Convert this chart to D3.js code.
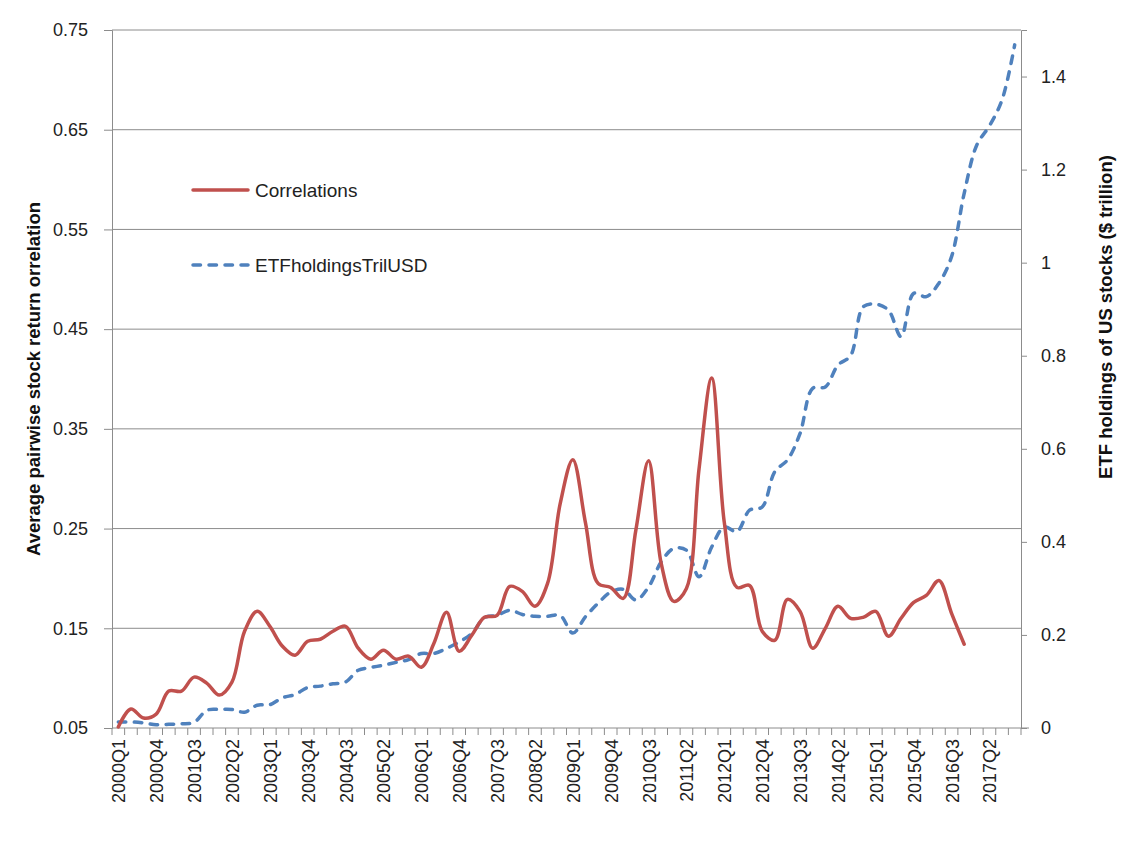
<!DOCTYPE html>
<html>
<head>
<meta charset="utf-8">
<script src="https://cdn.jsdelivr.net/npm/d3@7"></script>
<style>
  body { margin: 0; background: #fff; }
  text { font-family: "Liberation Sans", Arial, sans-serif; }
</style>
</head>
<body>
<div id="chart"></div>
<script>
// quarters 2000Q1 .. 2017Q4
const quarters = [];
for (let y = 2000; y <= 2017; y++) {
    for (let q = 1; q <= 4; q++) quarters.push(y + "Q" + q);
}

const correlations = [
    0.051, 0.069, 0.060, 0.064, 0.087, 0.087, 0.101, 0.095, 0.083, 0.096,
    0.147, 0.167, 0.152, 0.132, 0.123, 0.137, 0.139, 0.147, 0.152, 0.130,
    0.119, 0.128, 0.119, 0.122, 0.111, 0.135, 0.166, 0.127, 0.143, 0.161,
    0.163, 0.192, 0.187, 0.172, 0.195, 0.275, 0.319, 0.256, 0.195, 0.191,
    0.180, 0.249, 0.318, 0.215, 0.177, 0.190, 0.310, 0.401, 0.256, 0.191,
    0.193, 0.147, 0.138, 0.179, 0.167, 0.130, 0.150, 0.172, 0.160, 0.161,
    0.167, 0.142, 0.160, 0.176, 0.183, 0.198, 0.165, 0.134
];

const etfHoldings = [
    0.013, 0.013, 0.011, 0.007, 0.008, 0.009, 0.012, 0.038, 0.040, 0.040,
    0.034, 0.049, 0.050, 0.065, 0.072, 0.087, 0.090, 0.095, 0.099, 0.124,
    0.130, 0.135, 0.141, 0.147, 0.160, 0.160, 0.171, 0.185, 0.203, 0.237,
    0.242, 0.253, 0.244, 0.240, 0.240, 0.242, 0.204, 0.239, 0.268, 0.292,
    0.298, 0.275, 0.303, 0.357, 0.386, 0.382, 0.325, 0.389, 0.432, 0.422,
    0.468, 0.475, 0.551, 0.576, 0.633, 0.730, 0.733, 0.780, 0.800, 0.905,
    0.911, 0.898, 0.841, 0.934, 0.927, 0.956, 1.013, 1.149, 1.253, 1.294,
    1.350, 1.468
];

const leftTicks = [0.05, 0.15, 0.25, 0.35, 0.45, 0.55, 0.65, 0.75];
const rightTicks = [0, 0.2, 0.4, 0.6, 0.8, 1, 1.2, 1.4];

const W = 1132, H = 842;
const plotL = 112, plotR = 1021, plotT = 30, plotB = 728;

const svg = d3.select("#chart").append("svg")
    .attr("width", W)
    .attr("height", H);

const x = d3.scaleBand().domain(quarters).range([plotL, plotR]);
const yL = d3.scaleLinear().domain([0.05, 0.75]).range([plotB, plotT]);
const yR = d3.scaleLinear().domain([0, 1.5]).range([plotB, plotT]);

const grey = "#8c8c8c";

// gridlines
svg.append("g").selectAll("line")
    .data(leftTicks.slice(1))
    .enter().append("line")
    .attr("x1", plotL).attr("x2", plotR)
    .attr("y1", d => yL(d)).attr("y2", d => yL(d))
    .attr("stroke", grey).attr("stroke-width", 1);

// left axis
const axL = svg.append("g")
    .attr("transform", "translate(" + plotL + ",0)")
    .call(d3.axisLeft(yL).tickValues(leftTicks).tickFormat(d3.format(".2f")).tickSize(8).tickPadding(16));
axL.select(".domain").attr("stroke", grey);
axL.selectAll(".tick line").attr("stroke", grey);
axL.selectAll("text").style("font-size", "18px").attr("fill", "#222");

// right axis
const axR = svg.append("g")
    .attr("transform", "translate(" + plotR + ",0)")
    .call(d3.axisRight(yR).tickValues(rightTicks).tickFormat(d => d3.format("")(d)).tickSize(6).tickPadding(14));
axR.select(".domain").attr("stroke", grey);
axR.selectAll(".tick line").attr("stroke", grey);
axR.selectAll("text").style("font-size", "18px").attr("fill", "#222");

// bottom axis: tick marks at band boundaries, labels every 3rd quarter
const xb = svg.append("g").attr("transform", "translate(0," + plotB + ")");
xb.append("line").attr("x1", plotL).attr("x2", plotR + 8).attr("stroke", grey);
xb.selectAll(".tk")
    .data(d3.range(quarters.length + 1))
    .enter().append("line")
    .attr("x1", i => plotL + i * x.step()).attr("x2", i => plotL + i * x.step())
    .attr("y1", 0).attr("y2", 7)
    .attr("stroke", grey);
xb.selectAll(".lbl")
    .data(quarters.filter((d, i) => i % 3 === 0))
    .enter().append("text")
    .attr("transform", d => "translate(" + (x(d) + x.bandwidth() / 2 + 7) + ",11) rotate(-90)")
    .attr("text-anchor", "end")
    .style("font-size", "18px")
    .attr("fill", "#222")
    .text(d => d);

// axis titles
svg.append("text")
    .attr("transform", "translate(40,379) rotate(-90)")
    .attr("text-anchor", "middle")
    .style("font-size", "18.5px").style("font-weight", "bold")
    .attr("fill", "#111")
    .text("Average pairwise stock return orrelation");

svg.append("text")
    .attr("transform", "translate(1112,317) rotate(-90)")
    .attr("text-anchor", "middle")
    .style("font-size", "18.5px").style("font-weight", "bold")
    .attr("fill", "#111")
    .text("ETF holdings of US stocks ($ trillion)");

// lines
const red = "#c0504d", blue = "#4f81bd";

const lineL = d3.line()
    .x((d, i) => x(quarters[i]) + x.bandwidth() / 2)
    .y(d => yL(d))
    .curve(d3.curveCatmullRom.alpha(0.5));

const lineR = d3.line()
    .x((d, i) => x(quarters[i]) + x.bandwidth() / 2)
    .y(d => yR(d))
    .curve(d3.curveCatmullRom.alpha(0.5));

svg.append("path")
    .datum(etfHoldings)
    .attr("d", lineR)
    .attr("fill", "none")
    .attr("stroke", blue)
    .attr("stroke-width", 3.5)
    .attr("stroke-linecap", "round")
    .attr("stroke-dasharray", "7.5,8.5");

svg.append("path")
    .datum(correlations)
    .attr("d", lineL)
    .attr("fill", "none")
    .attr("stroke", red)
    .attr("stroke-width", 3.5)
    .attr("stroke-linejoin", "round")
    .attr("stroke-linecap", "round");

// legend
const legend = [
    { name: "Correlations", color: red, dash: null, y: 190 },
    { name: "ETFholdingsTrilUSD", color: blue, dash: "7.5,8.5", y: 265 }
];
const lg = svg.append("g").selectAll("g").data(legend).enter().append("g");
lg.append("line")
    .attr("x1", 193).attr("x2", 248)
    .attr("y1", d => d.y).attr("y2", d => d.y)
    .attr("stroke", d => d.color)
    .attr("stroke-width", 3.5)
    .attr("stroke-linecap", "round")
    .attr("stroke-dasharray", d => d.dash);
lg.append("text")
    .attr("x", 255).attr("y", d => d.y + 7)
    .style("font-size", "19px")
    .attr("fill", "#222")
    .text(d => d.name);
</script>
</body>
</html>
